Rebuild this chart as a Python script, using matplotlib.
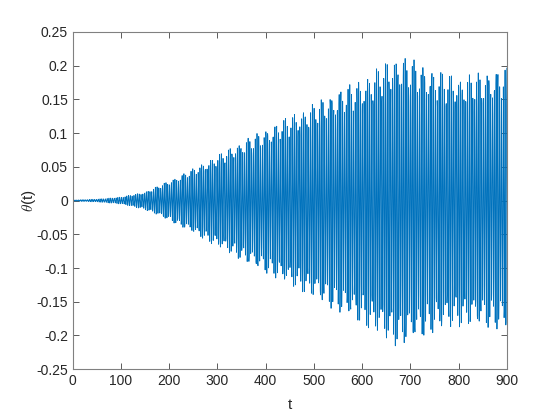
import numpy as np
import matplotlib
matplotlib.use("Agg")
import matplotlib.pyplot as plt

# Envelope of theta(t)
env_t = [0, 50, 100, 150, 200, 250, 300, 350, 400, 450, 500, 550, 600, 650, 675, 700, 750, 800, 850, 900]
env_upper = [0.0008, 0.002, 0.005, 0.012, 0.028, 0.045, 0.064, 0.084, 0.100, 0.120, 0.137, 0.155, 0.172, 0.196, 0.207, 0.200, 0.184, 0.177, 0.180, 0.188]
env_lower = [-0.0008, -0.002, -0.005, -0.013, -0.028, -0.046, -0.066, -0.084, -0.102, -0.120, -0.138, -0.157, -0.175, -0.198, -0.206, -0.200, -0.186, -0.178, -0.178, -0.184]

# oscillation periods (carrier and small second component)
period_fast = 3.7
period_slow = 3.1
mix = [1.0, 0.12]

x_ticks = [0, 100, 200, 300, 400, 500, 600, 700, 800, 900]
y_ticks = [-0.25, -0.2, -0.15, -0.1, -0.05, 0, 0.05, 0.1, 0.15, 0.2, 0.25]
y_labels = ["-0.25", "-0.2", "-0.15", "-0.1", "-0.05", "0", "0.05", "0.1", "0.15", "0.2", "0.25"]

# Build the signal
t = np.arange(0, 900.001, 0.4)
up = np.interp(t, env_t, env_upper)
lo = np.interp(t, env_t, env_lower)
wave = mix[0] * np.sin(2 * np.pi * t / period_fast) + mix[1] * np.sin(2 * np.pi * t / period_slow)
wave = wave / (mix[0] + 0.5 * mix[1])
theta = np.where(wave >= 0, wave * up, -wave * lo)

plt.rcParams["font.family"] = ["Liberation Sans", "DejaVu Sans"]
plt.rcParams["mathtext.fontset"] = "cm"

fig = plt.figure(figsize=(5.6, 4.2), dpi=100)
ax = fig.add_axes([0.13, 0.121, 0.775, 0.803])

ax.plot(t, theta, color="#0072BD", linewidth=0.6)

ax.set_xlim(0, 900)
ax.set_ylim(-0.25, 0.25)
ax.set_xticks(x_ticks)
ax.set_yticks(y_ticks)
ax.set_yticklabels(y_labels)

grey = "#262626"
for s in ax.spines.values():
    s.set_color("#808080")
    s.set_linewidth(0.8)
ax.tick_params(direction="in", length=4, width=0.6, color="#404040",
               labelcolor=grey, labelsize=10, top=True, right=True)

ax.set_xlabel("t", fontsize=11, color=grey, labelpad=7)
ax.set_ylabel(r"$\theta$(t)", fontsize=11, color=grey, labelpad=-1)

fig.savefig("out.png", dpi=100)
